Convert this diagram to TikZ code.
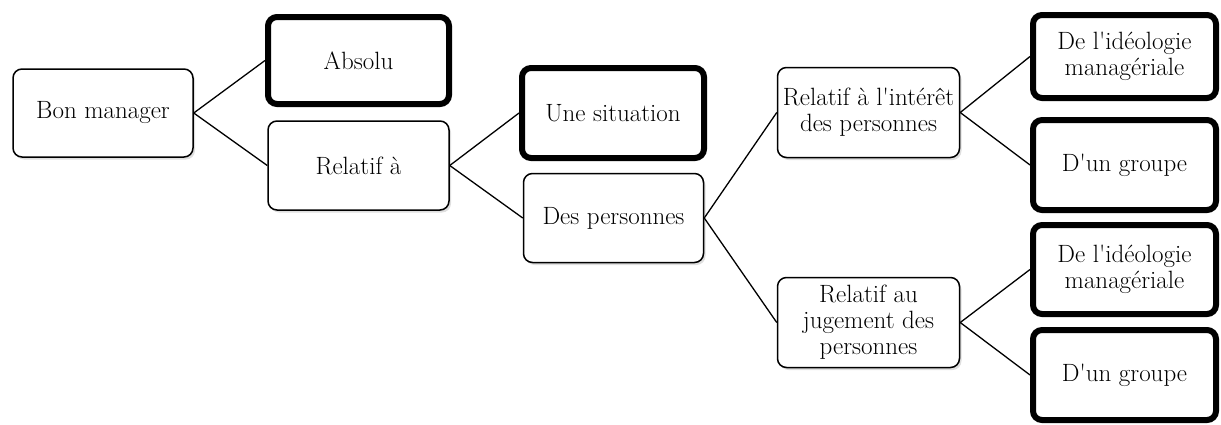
\documentclass[tikz,border=0pt]{standalone}
\usepackage{fontspec}
\usetikzlibrary{shadows}
\newcommand{\apos}{\textquotesingle}
\begin{document}
\begin{tikzpicture}[x=1pt,y=-1pt,
  box/.style={draw=black, fill=white, rounded corners=9pt, align=center,
    inner sep=0pt, font=\fontsize{25}{26}\selectfont,
    drop shadow={shadow xshift=2pt, shadow yshift=-2.5pt, opacity=0.25}},
  thinbox/.style={box, line width=1.5pt},
  thickbox/.style={box, line width=6pt},
  link/.style={draw=black, line width=1.3pt}]
\useasboundingbox (0,0) rectangle (1221,424);
\node[thinbox, minimum width=180pt, minimum height=88pt] (bon) at (103,113) {Bon manager};
\node[thickbox, minimum width=181pt, minimum height=87pt] (abs) at (358.5,60.5) {Absolu};
\node[thinbox, minimum width=181pt, minimum height=89pt] (rel) at (358.5,165.5) {Relatif à};
\node[thickbox, minimum width=182pt, minimum height=90pt] (sit) at (613,113) {Une situation};
\node[thinbox, minimum width=180pt, minimum height=89pt] (pers) at (613.5,218) {Des personnes};
\node[thinbox, minimum width=182pt, minimum height=90pt] (int) at (868.5,112.5) {Relatif à l\apos intérêt\\des personnes};
\node[thinbox, minimum width=182pt, minimum height=90pt] (jug) at (868.5,322.5) {Relatif au\\jugement des\\personnes};
\node[thickbox, minimum width=183pt, minimum height=83pt] (ia) at (1124.5,56.5) {De l\apos idéologie\\managériale};
\node[thickbox, minimum width=183pt, minimum height=90pt] (ib) at (1124.5,165) {D\apos un groupe};
\node[thickbox, minimum width=183pt, minimum height=89pt] (ja) at (1124.5,269.5) {De l\apos idéologie\\managériale};
\node[thickbox, minimum width=183pt, minimum height=90pt] (jb) at (1124.5,375) {D\apos un groupe};
\draw[link] (bon.east) -- (abs.west);
\draw[link] (bon.east) -- (rel.west);
\draw[link] (rel.east) -- (sit.west);
\draw[link] (rel.east) -- (pers.west);
\draw[link] (pers.east) -- (int.west);
\draw[link] (pers.east) -- (jug.west);
\draw[link] (int.east) -- (ia.west);
\draw[link] (int.east) -- (ib.west);
\draw[link] (jug.east) -- (ja.west);
\draw[link] (jug.east) -- (jb.west);
\end{tikzpicture}
\end{document}
